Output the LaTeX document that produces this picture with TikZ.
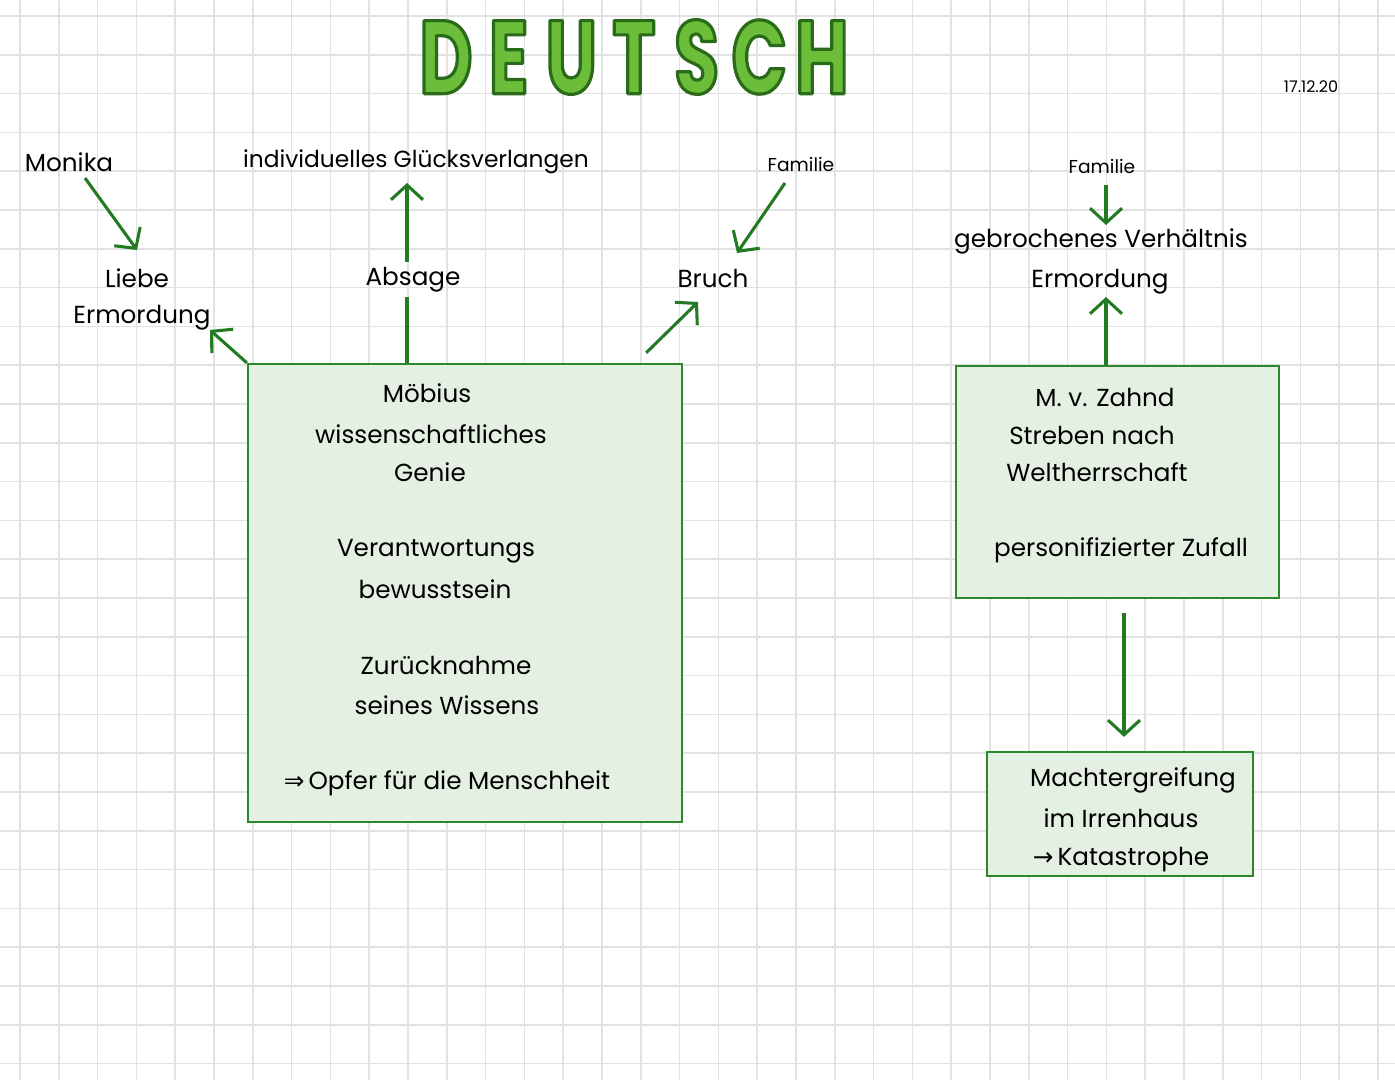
\documentclass[tikz,border=0pt]{standalone}
\usepackage{fontspec}
\setmainfont{Poppins}
\newfontfamily\titlefont{Poppins}[FakeStretch=0.7]
\newfontfamily\symfont{DejaVu Sans}
\usetikzlibrary{arrows.meta,fit}
\definecolor{gridc}{RGB}{226,226,226}
\definecolor{arrg}{RGB}{34,122,34}
\definecolor{boxg}{RGB}{45,135,45}
\definecolor{boxfill}{RGB}{228,240,226}
\definecolor{titlefill}{RGB}{108,190,58}
\newcommand\tletter[1]{\makebox[47pt]{#1}}
\newcommand\outlineon{\special{pdf:literal direct 2 Tr 2.4 w 1 j 0.16 0.42 0.10 RG}}
\newcommand\outlineoff{\special{pdf:literal direct 0 Tr}}
\tikzset{
  lbl/.style={font=\fontsize{18.5}{20}\selectfont, inner sep=0pt, anchor=center},
  smalllbl/.style={font=\fontsize{14}{16}\selectfont, inner sep=0pt, anchor=center},
  arr/.style={draw=arrg, line width=2.3pt, -{Straight Barb[length=11pt,width=24pt]}},
  link/.style={draw=arrg, line width=2.3pt},
  gbox/.style={draw=boxg, line width=1.7pt, fill=boxfill, inner sep=0pt},
}
\begin{document}
\begin{tikzpicture}[x=0.75pt,y=-0.75pt]
\useasboundingbox[fill=white] (0,0) rectangle (1395,1080);
% grid
\foreach \i in {0,...,35} \draw[gridc, line width=1.1pt] ({20+38.8*\i},0) -- ({20+38.8*\i},1080);
\foreach \i in {0,...,27} \draw[gridc, line width=1.1pt] (0,{16+38.8*\i}) -- (1395,{16+38.8*\i});

% title
\node[inner sep=0pt, text=titlefill, font=\titlefont\fontsize{78}{80}\selectfont\bfseries] (title) at (634,57)
  {\outlineon\tletter{D}\tletter{E}\tletter{U}\tletter{T}\tletter{S}\tletter{C}\tletter{H}\outlineoff};
\node[inner sep=0pt, font=\fontsize{12}{13}\selectfont] (date) at (1311,87) {17.12.20};

% boxes
\coordinate (mb1) at (248,364); \coordinate (mb2) at (682,822);
\node[gbox, fit=(mb1)(mb2)] (mbox) {};
\coordinate (zb1) at (956,366); \coordinate (zb2) at (1279,598);
\node[gbox, fit=(zb1)(zb2)] (zbox) {};
\coordinate (kb1) at (987,752); \coordinate (kb2) at (1253,876);
\node[gbox, fit=(kb1)(kb2)] (kbox) {};

% left labels
\node[lbl] (monika) at (69,162) {Monika};
\node[lbl] (liebe) at (137,278) {Liebe};
\node[lbl] (ermL) at (142,318) {Ermordung};
\node[lbl, font=\fontsize{17.5}{19}\selectfont] (indiv) at (416,162) {individuelles Glücksverlangen};
\node[lbl] (absage) at (413,280) {Absage};
\node[smalllbl] (famA) at (801,164) {Familie};
\node[lbl] (bruch) at (713,278) {Bruch};

% main box text
\node[lbl] (t1) at (427,393) {Möbius};
\node[lbl] (t2) at (431,434) {wissenschaftliches};
\node[lbl] (t3) at (430,472) {Genie};
\node[lbl] (t4) at (436,551) {Verantwortungs};
\node[lbl] (t5) at (435,589) {bewusstsein};
\node[lbl] (t6) at (446,665) {Zurücknahme};
\node[lbl] (t7) at (447,705) {seines Wissens};
\node[lbl] (t8) at (447,783) {{\symfont ⇒}\,Opfer für die Menschheit};

% right labels
\node[smalllbl] (famB) at (1102,166) {Familie};
\node[lbl] (gebr) at (1101,241) {gebrochenes Verhältnis};
\node[lbl] (ermR) at (1100,282) {Ermordung};
\node[lbl] (z1) at (1105,397) {M. v. Zahnd};
\node[lbl] (z2) at (1092,435) {Streben nach};
\node[lbl] (z3) at (1097,472) {Weltherrschaft};
\node[lbl] (z4) at (1121,550) {personifizierter Zufall};
\node[lbl] (k1) at (1133,780) {Machtergreifung};
\node[lbl] (k2) at (1121,818) {im Irrenhaus};
\node[lbl] (k3) at (1121,860) {{\symfont →}\,Katastrophe};

% connectors
\draw[arr] ([shift={(16,16)}]monika.center) -- ([shift={(0,-28)}]liebe.center);
\draw[arr] (mbox.north west) -- ([shift={(68,12)}]ermL.center);
\draw[arr] ([shift={(-6,-18)}]absage.center) -- ([shift={(-9,21)}]indiv.center);
\draw[link] ([shift={(-58,0)}]mbox.north) -- ([shift={(-6,17)}]absage.center);
\draw[arr] ([shift={(-16,19)}]famA.center) -- ([shift={(24,-25)}]bruch.center);
\draw[arr] ([shift={(-37,-10)}]mbox.north east) -- ([shift={(-15,24)}]bruch.center);
\draw[arr] ([shift={(4,19)}]famB.center) -- ([shift={(5,-16)}]gebr.center);
\draw[arr] ([shift={(-11.5,0)}]zbox.north) -- ([shift={(6,15)}]ermR.center);
\draw[arr] ([shift={(6.5,14)}]zbox.south) -- ([shift={(4,-14)}]kbox.north);
\end{tikzpicture}
\end{document}
